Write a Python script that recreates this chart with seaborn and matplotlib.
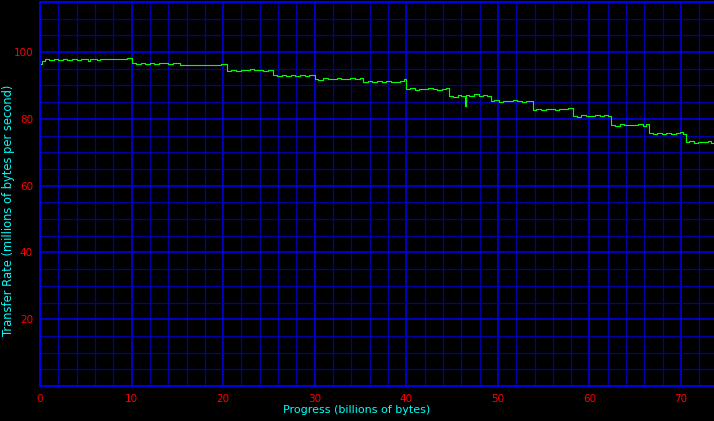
import numpy as np
import matplotlib
matplotlib.use("Agg")
import matplotlib.pyplot as plt
from matplotlib.ticker import MultipleLocator, FixedLocator
import seaborn as sns

# progress in billions of bytes, transfer rate in millions of bytes per second
progress = [
    0.0, 0.2, 0.5, 1.0, 1.5, 2.0, 2.5, 3.0, 3.5, 4.0, 4.5, 5.0, 5.2, 5.5, 6.0, 6.2,
    6.5, 7.0, 7.5, 8.0, 8.5, 9.0, 9.5,
    10.0, 10.5, 11.0, 11.5, 12.0, 12.5, 13.0, 13.5, 14.0, 14.5, 15.0, 15.3, 15.8,
    16.3, 16.8, 17.3, 17.8, 18.3, 18.8, 19.3, 19.8,
    20.4, 20.9, 21.4, 21.9, 22.4, 22.9, 23.4, 23.9, 24.4, 24.9,
    25.4, 25.9, 26.4, 26.9, 27.4, 27.9, 28.4, 28.9, 29.4,
    30.0, 30.4, 30.9, 31.4, 31.9, 32.4, 32.9, 33.4, 33.9, 34.4, 34.9,
    35.3, 35.8, 36.3, 36.8, 37.3, 37.8, 38.3, 38.8, 39.3, 39.7,
    40.0, 40.4, 40.9, 41.4, 41.9, 42.4, 42.9, 43.4, 43.9, 44.3,
    44.7, 45.1, 45.6, 46.0, 46.4, 46.5, 46.9, 47.4, 47.9, 48.4, 48.8,
    49.2, 49.6, 50.1, 50.6, 51.1, 51.6, 52.1, 52.6, 53.1, 53.5,
    53.8, 54.2, 54.7, 55.2, 55.7, 56.2, 56.7, 57.2, 57.7,
    58.2, 58.6, 59.1, 59.6, 60.1, 60.6, 61.1, 61.6, 62.0,
    62.4, 62.8, 63.3, 63.8, 64.3, 64.8, 65.3, 65.8, 66.2,
    66.5, 66.9, 67.4, 67.9, 68.4, 68.9, 69.4, 69.9, 70.2,
    70.5, 70.9, 71.4, 71.9, 72.4, 72.9, 73.3, 73.6,
]
rate = [
    96.4, 97.3, 97.9, 97.6, 97.8, 97.7, 97.9, 97.7, 97.8, 97.7, 97.8, 97.8, 97.4, 97.9, 97.9, 97.5,
    97.9, 97.9, 98.0, 97.8, 98.0, 97.9, 98.1,
    96.6, 96.5, 96.7, 96.5, 96.6, 96.4, 96.6, 96.7, 96.5, 96.6, 96.6, 96.1, 96.0,
    96.2, 96.0, 96.1, 96.0, 96.2, 96.0, 96.1, 96.3,
    94.4, 94.7, 94.4, 94.6, 94.5, 94.8, 94.5, 94.6, 94.4, 94.7,
    93.0, 92.8, 93.1, 92.9, 93.0, 92.8, 93.1, 92.9, 93.0,
    92.0, 91.7, 92.1, 91.9, 92.0, 92.2, 91.9, 92.0, 92.3, 92.0, 92.1,
    91.1, 91.3, 91.0, 91.2, 91.1, 91.3, 91.0, 91.1, 91.4, 91.8,
    88.8, 89.1, 88.7, 89.0, 88.8, 89.2, 88.9, 88.7, 89.0, 89.1,
    86.9, 86.6, 87.0, 86.7, 83.8, 87.1, 86.8, 87.3, 86.9, 87.2, 86.9,
    85.3, 85.6, 85.2, 85.5, 85.3, 85.6, 85.4, 85.2, 85.5, 85.3,
    82.8, 83.0, 82.7, 82.9, 83.1, 82.8, 83.0, 82.9, 83.3,
    81.0, 80.7, 81.1, 80.9, 81.0, 81.2, 80.9, 81.1, 81.0,
    78.3, 78.0, 78.4, 78.1, 78.3, 78.2, 78.4, 78.0, 78.6,
    75.8, 75.5, 75.9, 75.6, 75.8, 75.5, 75.7, 76.0, 75.6,
    73.1, 73.4, 72.9, 73.2, 73.0, 73.3, 72.8, 73.1,
]

x_major = [0, 10, 20, 30, 40, 50, 60, 70]
y_major = [20, 40, 60, 80, 100]

sns.set_style("dark")
plt.rcParams['font.family'] = ['DejaVu Sans']

fig = plt.figure(figsize=(7.14, 4.21), dpi=100, facecolor='black')
ax = fig.add_axes([40 / 714, 35 / 421, 674 / 714, 384 / 421])
ax.set_facecolor('black')

sns.lineplot(x=progress, y=rate, ax=ax, color='#00ff00', linewidth=0.8,
             drawstyle='steps-post', estimator=None)

ax.set_xlim(0, 73.6)
ax.set_ylim(0, 115)

ax.xaxis.set_major_locator(FixedLocator(x_major))
ax.xaxis.set_minor_locator(MultipleLocator(2))
ax.yaxis.set_major_locator(FixedLocator(y_major))
ax.yaxis.set_minor_locator(MultipleLocator(5))

ax.grid(which='minor', color='#0000a8', linewidth=0.9)
ax.grid(which='major', color='#0000ff', linewidth=1.1)
ax.set_axisbelow(True)

ax.tick_params(which='both', length=0, colors='#ff0000', labelsize=7.5)
ax.tick_params(axis='x', pad=6)
ax.tick_params(axis='y', pad=5)

for side in ['left', 'bottom', 'top']:
    ax.spines[side].set_visible(True)
    ax.spines[side].set_color('#0000ff')
    ax.spines[side].set_linewidth(1.3)
ax.spines['right'].set_visible(False)

ax.set_xlabel('Progress (billions of bytes)', color='#00ffff', fontsize=8)
ax.set_ylabel('Transfer Rate (millions of bytes per second)', color='#00ffff', fontsize=8.3)
ax.xaxis.set_label_coords((357 - 40) / 674, -19 / 384)
ax.yaxis.set_label_coords(-25 / 674, (210.5 - 35) / 384)

fig.savefig('out.png', dpi=100, facecolor='black')
